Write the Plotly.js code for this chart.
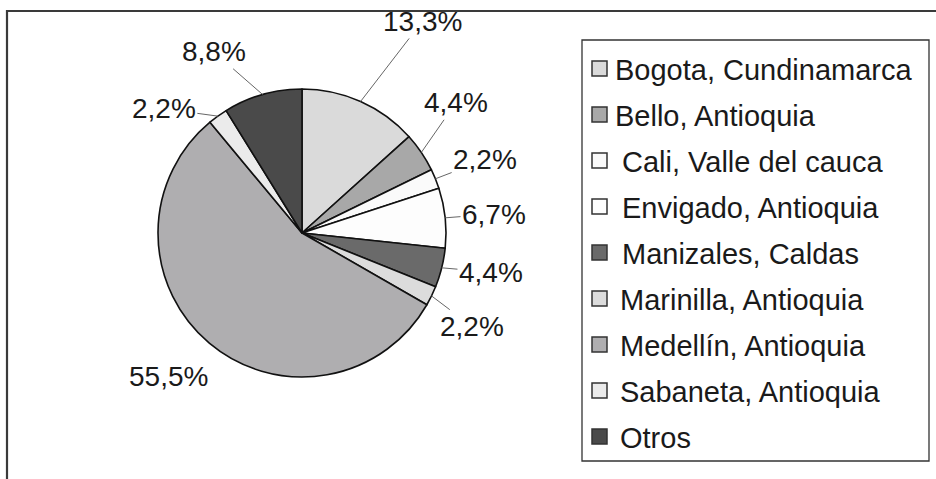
<!DOCTYPE html>
<html><head><meta charset="utf-8">
<script src="https://cdn.plot.ly/plotly-3.0.1.min.js"></script>
<style>html,body{margin:0;padding:0;background:#fff;overflow:hidden}</style>
</head><body><div id="chart" style="width:936px;height:479px"></div>
<script>
// ---- data ----
const categories = ["Bogota, Cundinamarca", "Bello, Antioquia", "Cali, Valle del cauca", "Envigado, Antioquia", "Manizales, Caldas", "Marinilla, Antioquia", "Medellín, Antioquia", "Sabaneta, Antioquia", "Otros"];
const shares = [13.3, 4.4, 2.2, 6.7, 4.4, 2.2, 55.5, 2.2, 8.8];
const sliceColors = ["#dadada", "#a8a8a8", "#fafafa", "#fdfdfd", "#6a6a6a", "#dcdcdc", "#afaeb0", "#ebebeb", "#4a4a4a"];

// ---- layout settings (style / placement only) ----
const W = 936, H = 479;
const CX = 302, CY = 233, R = 144;
const labelAngleShift = [5.6, -6.2, 0.3, 0.4, -2.3, 2.9, 2.9, -12.3, -10.1];
const labelDist = [1.69, 1.40, 1.37, 1.34, 1.34, 1.35, 1.36, 1.29, 1.40];
const labelLeader = [true, true, true, true, true, true, false, true, true];
const legendTextX = [613, 613, 620, 620, 620, 618, 618, 618, 618];
const legendTop = 70, legendStep = 46;
const FONT = "Liberation Sans, Arial, sans-serif";
const TXT = "#1a1a1a";

const px = x => x / W;
const py = y => 1 - y / H;
const fmt = v => v.toFixed(1).replace('.', ',') + '%';

const total = shares.reduce((a, b) => a + b, 0);
const annotations = [];
const shapes = [];

// percentage labels with leader lines, positions derived from slice angles
let cum = 0;
shares.forEach((v, i) => {
  const mid = (cum + v / 2) / total * 2 * Math.PI;
  cum += v;
  const hx = CX + R * Math.sin(mid), hy = CY - R * Math.cos(mid);
  const la = mid + labelAngleShift[i] * Math.PI / 180;
  const lx = CX + labelDist[i] * R * Math.sin(la), ly = CY - labelDist[i] * R * Math.cos(la);
  if (labelLeader[i]) {
    annotations.push({
      xref: 'paper', yref: 'paper', x: px(hx), y: py(hy),
      ax: lx - hx, ay: ly - hy, axref: 'pixel', ayref: 'pixel',
      showarrow: true, arrowhead: 0, arrowwidth: 1, arrowcolor: '#666',
      text: fmt(v), font: {family: FONT, size: 28, color: TXT}
    });
  } else {
    annotations.push({
      xref: 'paper', yref: 'paper', x: px(lx), y: py(ly),
      xanchor: 'center', yanchor: 'middle', showarrow: false,
      text: fmt(v), font: {family: FONT, size: 28, color: TXT}
    });
  }
});

// legend (swatches from slice colours, text from categories)
categories.forEach((c, i) => {
  const yc = legendTop + legendStep * i;
  shapes.push({type: 'rect', xref: 'paper', yref: 'paper',
    x0: px(592), x1: px(607), y0: py(yc - 9), y1: py(yc + 6),
    fillcolor: sliceColors[i], line: {color: '#333', width: 1.5}});
  annotations.push({xref: 'paper', yref: 'paper', x: px(legendTextX[i]), y: py(yc),
    xanchor: 'left', yanchor: 'middle', showarrow: false, text: c,
    font: {family: FONT, size: 29, color: TXT}});
});

// legend box and outer frame
shapes.push({type: 'rect', xref: 'paper', yref: 'paper', x0: px(582), x1: px(929), y0: py(461), y1: py(40),
  line: {color: '#333', width: 1.3}, fillcolor: 'rgba(0,0,0,0)'});
shapes.push({type: 'rect', xref: 'paper', yref: 'paper', x0: px(7), x1: 1.02, y0: -0.02, y1: py(11),
  line: {color: '#3a3a3a', width: 2.2}, fillcolor: 'rgba(0,0,0,0)'});

const trace = {
  type: 'pie', labels: categories, values: shares, sort: false,
  direction: 'clockwise', rotation: 0, textinfo: 'none', hoverinfo: 'label+percent',
  marker: {colors: sliceColors, line: {color: '#111', width: 1.6}},
  domain: {x: [px(CX - R), px(CX + R)], y: [py(CY + R), py(CY - R)]},
  showlegend: false
};

Plotly.newPlot('chart', [trace], {
  width: W, height: H, margin: {l: 0, r: 0, t: 0, b: 0},
  paper_bgcolor: '#fff', plot_bgcolor: '#fff', showlegend: false,
  annotations: annotations, shapes: shapes
}, {staticPlot: true});
</script>
</body></html>
